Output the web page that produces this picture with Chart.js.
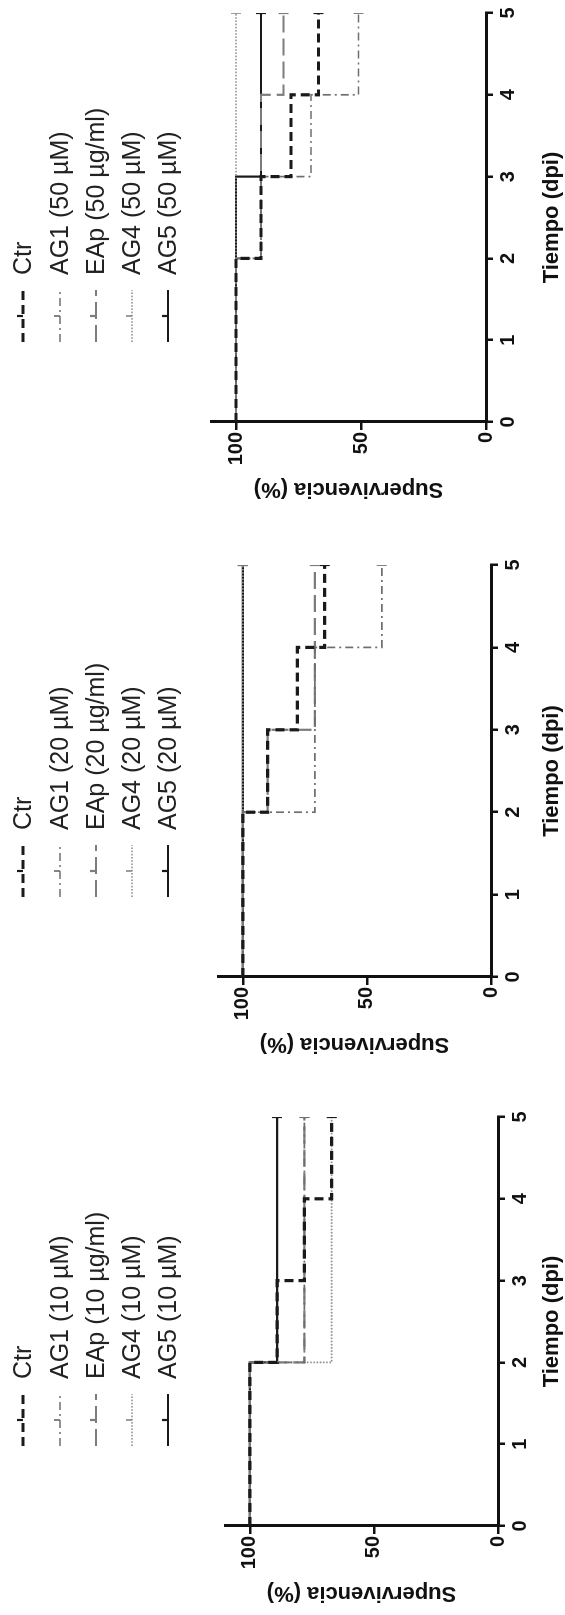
<!DOCTYPE html>
<html><head><meta charset="utf-8">
<script src="https://cdn.jsdelivr.net/npm/chart.js@4.4.0/dist/chart.umd.min.js"></script>
<style>
html,body{margin:0;padding:0;background:#fff;width:565px;height:1615px;overflow:hidden}
#fig{position:absolute;left:0;top:1615px;width:1615px;height:565px;transform-origin:0 0;transform:rotate(-90deg);}
#fig canvas{position:absolute;top:0}
</style></head><body>
<div id="fig">
<canvas id="c1"></canvas><canvas id="c2"></canvas><canvas id="c3"></canvas>
</div>
<script>
// ---- data ----
const days = [0, 1, 2, 3, 4, 5];
const yTicks = [0, 50, 100];
const xTitle = 'Tiempo (dpi)';
const yTitle = 'Supervivencia (%)';

const names10 = ['Ctr', 'AG1 (10 µM)', 'EAp (10 µg/ml)', 'AG4 (10 µM)', 'AG5 (10 µM)'];
const ctr10 = [100, 100, 89, 78, 67, 67];
const ag1_10 = [100, 100, 78, 78, 78, 78];
const eap10 = [100, 100, 78, 78, 78, 78];
const ag4_10 = [100, 100, 67, 67, 67, 67];
const ag5_10 = [100, 100, 89, 89, 89, 89];

const names20 = ['Ctr', 'AG1 (20 µM)', 'EAp (20 µg/ml)', 'AG4 (20 µM)', 'AG5 (20 µM)'];
const ctr20 = [100, 100, 90, 78, 67, 67];
const ag1_20 = [100, 100, 71, 71, 44, 44];
const eap20 = [100, 100, 90, 71, 71, 71];
const ag4_20 = [100, 100, 100, 100, 100, 100];
const ag5_20 = [100, 100, 100, 100, 100, 100];

const names50 = ['Ctr', 'AG1 (50 µM)', 'EAp (50 µg/ml)', 'AG4 (50 µM)', 'AG5 (50 µM)'];
const ctr50 = [100, 100, 90, 78, 67, 67];
const ag1_50 = [100, 100, 90, 70, 51, 51];
const eap50 = [100, 100, 90, 90, 81, 81];
const ag4_50 = [100, 100, 100, 100, 100, 100];
const ag5_50 = [100, 100, 100, 90, 90, 90];

// ---- styles ----
const FONT = '"Liberation Sans", Arial, Helvetica, sans-serif';
const styles = [
  {color: '#1a1a1a', width: 3.2, dash: [9, 5]},
  {color: '#6f6f6f', width: 1.7, dash: [8, 4, 2, 4]},
  {color: '#7c7c7c', width: 2.2, dash: [17, 6]},
  {color: '#8c8c8c', width: 1.7, dash: [1.6, 1.6]},
  {color: '#1a1a1a', width: 2.2, dash: []}
];

const panels = [
  {id: 'c1', left: 0,    width: 545, t0: 89,  t5: 498, y0: 498, y110: 225, names: names10, series: [ctr10, ag1_10, eap10, ag4_10, ag5_10]},
  {id: 'c2', left: 549,  width: 545, t0: 638, t5: 1050, y0: 491, y110: 218, names: names20, series: [ctr20, ag1_20, eap20, ag4_20, ag5_20]},
  {id: 'c3', left: 1104, width: 511, t0: 1193, t5: 1602, y0: 486, y110: 211, names: names50, series: [ctr50, ag1_50, eap50, ag4_50, ag5_50]}
];

const legendRows = [23, 60, 96, 132, 168];

const legendPlugin = {
  id: 'kmLegend',
  afterDraw(chart) {
    const ctx = chart.ctx;
    const base = chart.chartArea.left;
    const x1 = base + 80, x2 = base + 132, tx = base + 147;
    chart.data.datasets.forEach((ds, i) => {
      const y = legendRows[i];
      ctx.save();
      ctx.strokeStyle = ds.borderColor;
      ctx.lineWidth = ds.borderWidth;
      ctx.setLineDash(ds.borderDash || []);
      ctx.beginPath(); ctx.moveTo(x1, y); ctx.lineTo(x2, y); ctx.stroke();
      ctx.setLineDash([]);
      ctx.lineWidth = Math.min(ds.borderWidth, 2.2);
      const mx = (x1 + x2) / 2;
      ctx.beginPath(); ctx.moveTo(mx, y); ctx.lineTo(mx, y - 6); ctx.stroke();
      ctx.fillStyle = '#222';
      ctx.font = '25px ' + FONT;
      ctx.textBaseline = 'middle';
      ctx.textAlign = 'left';
      ctx.fillText(ds.label, tx, y + 1);
      ctx.restore();
    });
  }
};

panels.forEach(p => {
  const cv = document.getElementById(p.id);
  cv.width = p.width; cv.height = 565;
  cv.style.left = p.left + 'px';
  cv.style.width = p.width + 'px'; cv.style.height = '565px';
  const datasets = p.series.map((vals, i) => ({
    label: p.names[i],
    data: days.map((d, k) => ({x: d, y: vals[k]})),
    stepped: true,
    borderColor: styles[i].color,
    borderWidth: styles[i].width,
    borderDash: styles[i].dash,
    fill: false,
    pointRadius: days.map((d, k) => k === days.length - 1 ? 5 : 0),
    pointStyle: 'line',
    rotation: 90,
    pointBorderColor: styles[i].color,
    pointBorderWidth: Math.min(styles[i].width, 2.2),
    pointHoverRadius: 0
  }));
  new Chart(cv, {
    type: 'line',
    data: {datasets},
    plugins: [legendPlugin],
    options: {
      responsive: false,
      animation: false,
      devicePixelRatio: 1,
      layout: {padding: {left: 0, top: p.y110, bottom: 0, right: p.width - (p.t5 - p.left)}},
      plugins: {legend: {display: false}, tooltip: {enabled: false}},
      scales: {
        x: {
          type: 'linear', min: 0, max: 5,
          afterFit: s => { s.height = 565 - p.y0; },
          afterBuildTicks: s => { s.ticks = days.map(v => ({value: v})); },
          ticks: {color: '#111', font: {family: FONT, size: 20, weight: 'bold'}, padding: 3, maxRotation: 0},
          grid: {display: true, drawOnChartArea: false, drawTicks: true, tickLength: 7, color: '#111', lineWidth: 2.5},
          border: {display: true, color: '#111', width: 3},
          title: {display: true, text: xTitle, color: '#111', font: {family: FONT, size: 22, weight: 'bold'}, padding: {top: 0, bottom: 0}}
        },
        y: {
          min: 0, max: 110,
          afterFit: s => { s.width = p.t0 - p.left; },
          afterBuildTicks: s => { s.ticks = yTicks.map(v => ({value: v})); },
          ticks: {color: '#111', font: {family: FONT, size: 20, weight: 'bold'}, padding: 2},
          grid: {display: true, drawOnChartArea: false, drawTicks: true, tickLength: 8, color: '#111', lineWidth: 2.5},
          border: {display: true, color: '#111', width: 3},
          title: {display: true, text: yTitle, color: '#111', font: {family: FONT, size: 22, weight: 'bold'}, padding: {top: 9, bottom: 0}}
        }
      }
    }
  });
});
</script>
</body></html>
